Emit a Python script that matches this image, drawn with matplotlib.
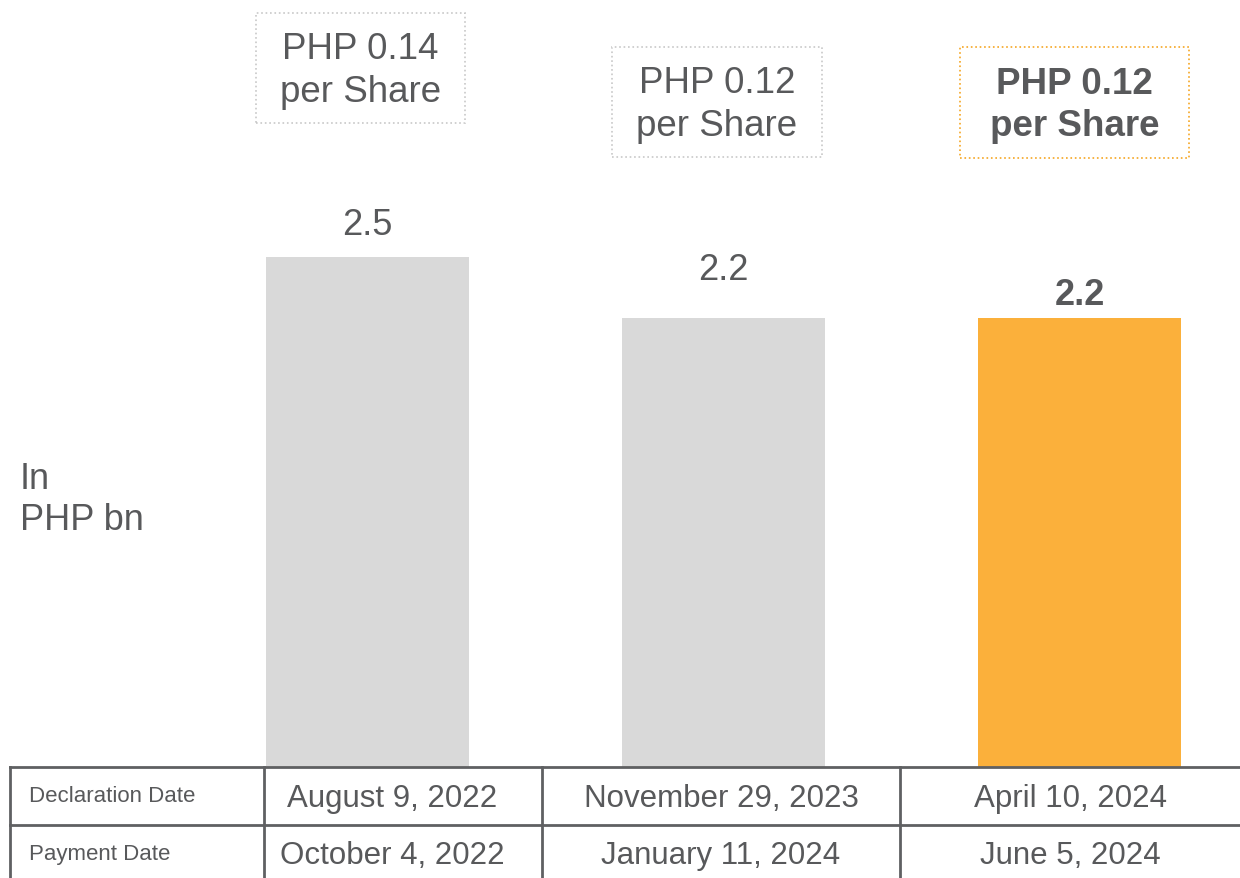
import numpy as np
import matplotlib
matplotlib.use('Agg')
import matplotlib.pyplot as plt
from matplotlib.patches import Rectangle

matplotlib.rcParams['font.family'] = ['Liberation Sans', 'DejaVu Sans']

# data
values = [2.5, 2.2, 2.2]
value_labels = ['2.5', '2.2', '2.2']
per_share = ['PHP 0.14\nper Share', 'PHP 0.12\nper Share', 'PHP 0.12\nper Share']
declaration = ['August 9, 2022', 'November 29, 2023', 'April 10, 2024']
payment = ['October 4, 2022', 'January 11, 2024', 'June 5, 2024']
row_names = ['Declaration Date', 'Payment Date']

W, H = 1240, 879
txt = '#58595b'
bar_colors = ['#d9d9d9', '#d9d9d9', '#fbb03b']
box_colors = ['#c8c8c8', '#c8c8c8', '#f5a623']

fig = plt.figure(figsize=(W / 100, H / 100), dpi=100, facecolor='white')

def px(x, y):
    return x / W, 1 - y / H

# bar axes: baseline at y=768 px, 204 px per unit
ax = fig.add_axes([0, 1 - 768 / H, 1, 768 / H])
ax.set_xlim(-367.5 / 356, (W - 367.5) / 356)
ax.set_ylim(0, 768 / 204)
ax.axis('off')
x = np.arange(len(values))
bars = ax.bar(x, values, width=203 / 356, color=bar_colors)

# value labels
offsets = [0.16, 0.24, 0.115]
for i, v in enumerate(values):
    ax.text(x[i], v + offsets[i], value_labels[i], ha='center', va='center',
            fontsize=26, color=txt,
            fontweight='bold' if i == 2 else 'normal')

# per share boxes (pixel layout)
boxes = [(256, 14, 209, 110), (612, 48, 210, 110), (960, 48, 229, 111)]
for i, (bx, by, bw, bh) in enumerate(boxes):
    x0, y0 = px(bx, by + bh)
    r = Rectangle((x0, y0), bw / W, bh / H, transform=fig.transFigure,
                  fill=False, edgecolor=box_colors[i], linestyle=':', linewidth=1.2)
    fig.patches.append(r)
    cx, cy = px(bx + bw / 2, by + bh / 2 + 2)
    fig.text(cx, cy, per_share[i], ha='center', va='center', fontsize=26.5,
             color=txt, linespacing=1.28, fontweight='bold' if i == 2 else 'normal')

# axis unit label
fig.text(*px(20, 500), 'In\nPHP bn', ha='left', va='center', fontsize=26,
         color=txt, linespacing=1.25)

# table
line_c = '#5f6062'
for yy in [768, 826]:
    fig.add_artist(plt.Line2D([10 / W, 1], [1 - yy / H] * 2, color=line_c, lw=2))
for xx in [10, 264, 542, 900]:
    fig.add_artist(plt.Line2D([xx / W] * 2, [1 - 768 / H, 0], color=line_c, lw=2))

col_centers = [392, 721, 1070]
for i in range(3):
    fig.text(*px(col_centers[i], 799), declaration[i], ha='center', va='center',
             fontsize=22.5, color=txt)
    fig.text(*px(col_centers[i], 856), payment[i], ha='center', va='center',
             fontsize=22.5, color=txt)
fig.text(*px(29, 797), row_names[0], ha='left', va='center', fontsize=16, color=txt)
fig.text(*px(29, 855), row_names[1], ha='left', va='center', fontsize=16, color=txt)

plt.savefig('out.png', dpi=100, facecolor='white')
